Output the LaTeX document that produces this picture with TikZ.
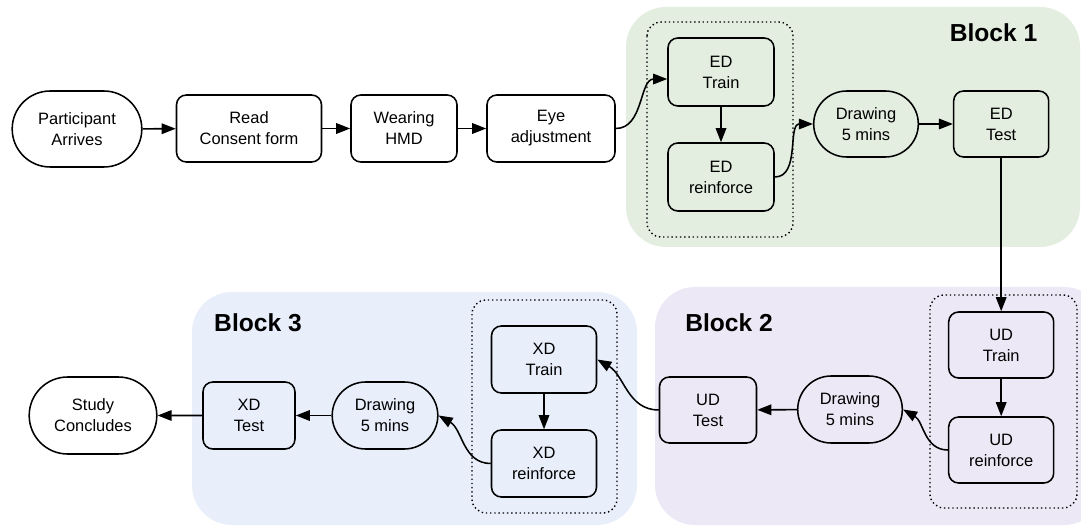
\documentclass[tikz,border=0pt]{standalone}
\usepackage{fontspec}
\setmainfont{Liberation Sans}
\usetikzlibrary{arrows.meta, shapes.misc}
\definecolor{blockgreen}{RGB}{227,237,224}
\definecolor{blockpurple}{RGB}{236,232,245}
\definecolor{blockblue}{RGB}{232,239,251}

\begin{document}
\begin{tikzpicture}[
		line width=1.1pt,
		>={Triangle[length=10pt,width=7.5pt]},
		stepbox/.style={draw, rectangle, rounded corners=7pt, minimum width=2.65cm, minimum height=1.675cm, align=center, font=\fontsize{11.7}{15}\selectfont},
		pill/.style={draw, rounded rectangle, minimum height=1.675cm, align=center, font=\fontsize{11.7}{15}\selectfont},
		group/.style={draw, dotted, line width=1pt, rounded corners=10pt},
		blocktitle/.style={font=\fontsize{17.5}{20}\selectfont\bfseries}
	]
	\useasboundingbox (0,0) rectangle (27.025,-13.175);

	% coloured blocks
	\fill[blockgreen, rounded corners=1cm] (15.65,-0.175) rectangle (27.0,-6.175);
	\fill[blockpurple, rounded corners=1cm] (16.375,-7.175) rectangle (27.6,-13.125);
	\fill[blockblue, rounded corners=1cm] (4.8,-7.3) rectangle (15.925,-13.125);
	\draw[group] (16.175,-0.55) rectangle (19.825,-5.925);
	\draw[group] (23.25,-7.375) rectangle (26.925,-12.7);
	\draw[group] (11.8,-7.5) rectangle (15.425,-12.825);

	\node (b1) at (24.84,-0.825) [blocktitle] {Block 1};
	\node (b2) at (18.225,-8.075) [blocktitle] {Block 2};
	\node (b3) at (6.45,-8.075) [blocktitle] {Block 3};

	% first row
	\node (arrive) at (1.925,-3.225) [pill, minimum width=3.475cm, minimum height=1.9cm] {Participant\\Arrives};
	\node (consent) at (6.225,-3.2125) [stepbox, minimum width=3.625cm] {Read\\Consent form};
	\node (hmd) at (10.1,-3.2125) [stepbox, minimum width=2.65cm] {Wearing\\HMD};
	\node (eye) at (13.775,-3.2125) [stepbox, minimum width=3.2cm] {Eye\\adjustment};

	\node (edtrain) at (18.025,-1.8) [stepbox, minimum height=1.7cm] {ED\\Train};
	\node (edreinf) at (18.025,-4.425) [stepbox, minimum height=1.7cm] {ED\\reinforce};
	\node (draw1) at (21.65,-3.1) [pill, minimum width=2.85cm, minimum height=1.65cm] {Drawing\\5 mins};
	\node (edtest) at (25.03,-3.1) [stepbox, minimum width=2.375cm, minimum height=1.65cm] {ED\\Test};

	\draw[->] (arrive) to (consent);
	\draw[->] (consent) to (hmd);
	\draw[->] (hmd) to (eye);
	\draw[->] (eye.east) to[out=0, in=180] ([yshift=-5pt]edtrain.west);
	\draw[->] (edtrain) to (edreinf);
	\draw[->] (edreinf.east) to[out=0, in=180] (draw1.west);
	\draw[->] (draw1) to (edtest);

	% second row
	\node (udtrain) at (25.03,-8.625) [stepbox, minimum width=2.625cm, minimum height=1.65cm] {UD\\Train};
	\node (udreinf) at (25.03,-11.25) [stepbox, minimum width=2.625cm, minimum height=1.65cm] {UD\\reinforce};
	\node (draw2) at (21.25,-10.2375) [pill, minimum width=2.85cm] {Drawing\\5 mins};
	\node (udtest) at (17.7,-10.25) [stepbox, minimum width=2.425cm, minimum height=1.65cm] {UD\\Test};

	\node (xdtrain) at (13.6,-8.9875) [stepbox, minimum width=2.625cm] {XD\\Train};
	\node (xdreinf) at (13.6,-11.5875) [stepbox, minimum width=2.625cm] {XD\\reinforce};
	\node (draw3) at (9.625,-10.3875) [pill, minimum width=2.875cm] {Drawing\\5 mins};
	\node (xdtest) at (6.225,-10.3875) [stepbox, minimum width=2.3cm] {XD\\Test};
	\node (conclude) at (2.325,-10.3875) [pill, minimum width=3.425cm, minimum height=1.925cm] {Study\\Concludes};

	\draw[->] (edtest) to (udtrain);
	\draw[->] (udtrain) to (udreinf);
	\draw[->] (udreinf.west) to[out=180, in=-30] (draw2.east);
	\draw[->] (draw2) to (udtest);
	\draw[->] (udtest.west) to[out=180, in=-30] (xdtrain.east);
	\draw[->] (xdtrain) to (xdreinf);
	\draw[->] (xdreinf.west) to[out=180, in=-30] (draw3.east);
	\draw[->] (draw3) to (xdtest);
	\draw[->] (xdtest) to (conclude);
\end{tikzpicture}
\end{document}
